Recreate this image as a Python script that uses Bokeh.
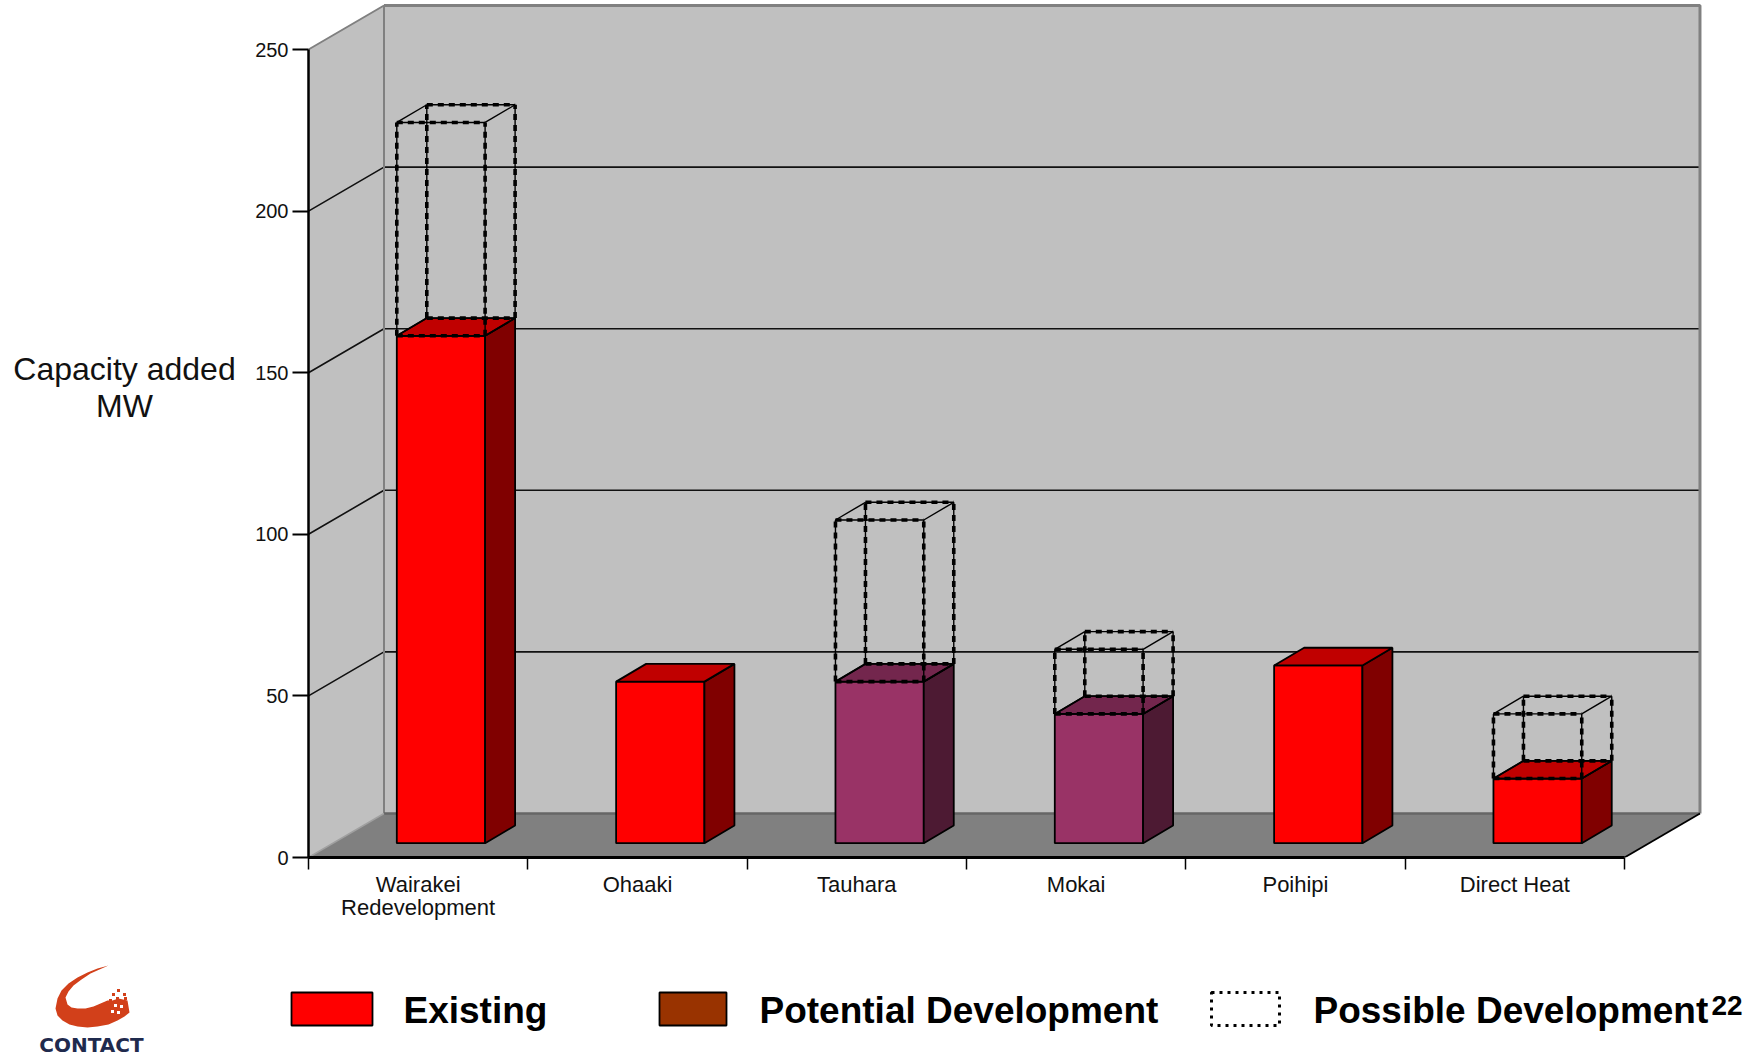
from bokeh.plotting import figure
from bokeh.layouts import column, row
from bokeh.models import Range1d, FixedTicker
from bokeh.core.properties import value
from bokeh.embed import file_html
from bokeh.resources import INLINE

# ---------- data ----------
categories = ["Wairakei\nRedevelopment", "Ohaaki", "Tauhara", "Mokai", "Poihipi", "Direct Heat"]
existing = [157, 50, 0, 0, 55, 20]
potential = [0, 0, 50, 40, 0, 0]
possible = [66, 0, 50, 20, 0, 20]
y_ticks = [0, 50, 100, 150, 200, 250]

# ---------- scales / geometry ----------
PX_CAT = 219.33
PX_MW = 3.232
W, H_TOP, H_LEG = 1749, 947, 108
TITLE_W = 240
FRAME_L, FRAME_B = 308, 90
FRAME_H = H_TOP - FRAME_B
ux = lambda px: px / PX_CAT
uy = lambda px: px / PX_MW
n = len(categories)
x_end = ux(W - FRAME_L)
y_end = uy(FRAME_H)
wall_dx, wall_dy = ux(75.5), uy(44)
right = n + wall_dx
wall_top = 250 + wall_dy
bar_off, bar_w = ux(88.3), ux(88.3)
bar_dx, bar_dy = ux(30), uy(17.7)
bar_base = uy(14.3)

RED, RED_TOP, RED_SIDE = "#FF0000", "#C00000", "#800000"
PUR, PUR_TOP, PUR_SIDE = "#993366", "#73264D", "#4D1A33"

p = figure(width=W - TITLE_W, height=H_TOP, output_backend="svg", toolbar_location=None,
           x_range=Range1d(0, x_end), y_range=Range1d(0, y_end),
           min_border_left=FRAME_L - TITLE_W, min_border_right=0, min_border_top=0, min_border_bottom=FRAME_B)
p.outline_line_color = None
p.grid.visible = False
p.frame_align = False

# axes
ya = p.yaxis[0]
ya.ticker = FixedTicker(ticks=y_ticks)
ya.bounds = (0, 250)
ya.axis_line_width = 2.5
ya.axis_line_color = "black"
ya.major_tick_line_width = 2
ya.major_tick_line_color = "black"
ya.major_tick_in = 0
ya.major_tick_out = 16
ya.minor_tick_line_color = None
ya.major_label_standoff = 4
ya.major_label_text_font = "Liberation Sans"
ya.major_label_text_font_size = "20px"
ya.major_label_text_color = "#111111"

xa = p.xaxis[0]
xa.ticker = FixedTicker(ticks=[i + 0.5 for i in range(n)], minor_ticks=list(range(n + 1)))
xa.major_label_overrides = {i + 0.5: c for i, c in enumerate(categories)}
xa.bounds = (0, n)
xa.axis_line_width = 3
xa.axis_line_color = "black"
xa.major_tick_line_color = None
xa.major_tick_in = 0
xa.major_tick_out = 0
xa.minor_tick_in = 0
xa.minor_tick_out = 12
xa.minor_tick_line_width = 1.5
xa.minor_tick_line_color = "black"
xa.major_label_standoff = 2
xa.major_label_text_font = "Liberation Sans"
xa.major_label_text_font_size = "22px"
xa.major_label_text_color = "#111111"
xa.major_label_text_line_height = 0.95

# walls and floor
p.patch([wall_dx, right, right, wall_dx], [wall_dy, wall_dy, wall_top, wall_top], fill_color="#C0C0C0", line_color=None)
p.patch([0, wall_dx, wall_dx, 0], [0, wall_dy, wall_top, 250], fill_color="#C0C0C0", line_color=None)
p.patch([0, n, right, wall_dx], [0, 0, wall_dy, wall_dy], fill_color="#808080", line_color=None)

# grid lines on both walls
for v in y_ticks[1:-1]:
    p.line([0, wall_dx, right], [v, v + wall_dy, v + wall_dy], line_color="#111111", line_width=1.6)

# wall edges
p.line([0, wall_dx, wall_dx], [250, wall_top, wall_dy], line_color="#808080", line_width=2)
p.line([wall_dx, right, right], [wall_top, wall_top, wall_dy], line_color="#808080", line_width=3)
p.line([wall_dx, right], [wall_dy, wall_dy], line_color="#666666", line_width=2.5)
p.line([0, wall_dx], [0, wall_dy], line_color="#A0A0A0", line_width=1.5)
p.line([n, right], [0, wall_dy], line_color="black", line_width=1.8)


def box(x0, y0, y1, front, top, side):
    x1 = x0 + bar_w
    style = dict(line_color="black", line_width=1.8)
    p.patch([x0, x1, x1, x0], [y0, y0, y1, y1], fill_color=front, **style)
    p.patch([x1, x1 + bar_dx, x1 + bar_dx, x1],
            [y0, y0 + bar_dy, y1 + bar_dy, y1], fill_color=side, **style)
    p.patch([x0, x1, x1 + bar_dx, x0 + bar_dx],
            [y1, y1, y1 + bar_dy, y1 + bar_dy], fill_color=top, **style)


def ghost(x0, y0, y1):
    x1 = x0 + bar_w
    a, b = x0 + bar_dx, x1 + bar_dx
    c, d = y0 + bar_dy, y1 + bar_dy
    thin = dict(line_color="black", line_width=1.4)
    thick = dict(line_color="black", line_width=3.6, line_dash="6 5")
    for xs, ys in ([x0, x0], [y0, y1]), ([x1, x1], [y0, y1]), ([a, a], [c, d]), ([b, b], [c, d]), \
                  ([x0, x1], [y1, y1]), ([a, b], [d, d]), ([x0, x1], [y0, y0]), ([a, b], [c, c]):
        p.line(xs, ys, **thin)
        p.line(xs, ys, **thick)
    for xs, ys in ([x0, a], [y1, d]), ([x1, b], [y1, d]), ([x0, a], [y0, c]), ([x1, b], [y0, c]):
        p.line(xs, ys, **thin)


for i in range(n):
    x0 = i + bar_off
    lo = bar_base
    if existing[i]:
        hi = lo + existing[i]
        box(x0, lo, hi, RED, RED_TOP, RED_SIDE)
        lo = hi
    if potential[i]:
        hi = lo + potential[i]
        box(x0, lo, hi, PUR, PUR_TOP, PUR_SIDE)
        lo = hi
    if possible[i]:
        ghost(x0, lo, lo + possible[i])

# ---------- y title panel, left of the chart ----------
t = figure(width=TITLE_W, height=H_TOP, output_backend="svg", toolbar_location=None,
           x_range=Range1d(0, TITLE_W), y_range=Range1d(0, y_end),
           x_axis_type=None, y_axis_type=None, min_border_left=0, min_border_right=0,
           min_border_top=0, min_border_bottom=FRAME_B)
t.outline_line_color = None
t.grid.visible = False
t.frame_align = False
t.text([124, 124], [uy(857 - 368), uy(857 - 405)], text=["Capacity added", "MW"],
       text_font=value("Liberation Sans"), text_font_size="32px", text_color="#111111",
       text_align="center", text_baseline="middle")

# ---------- legend strip, drawn in page pixels ----------
q = figure(width=W, height=H_LEG, output_backend="svg", toolbar_location=None,
           x_range=Range1d(0, W), y_range=Range1d(H_TOP + H_LEG, H_TOP),
           x_axis_type=None, y_axis_type=None, min_border=0)
q.outline_line_color = None
q.grid.visible = False
q.frame_align = False

q.quad(left=291, right=372, top=992, bottom=1025, fill_color="#FF0000", line_color="black", line_width=1.8)
q.quad(left=659, right=726, top=992, bottom=1025, fill_color="#993300", line_color="black", line_width=1.8)
q.quad(left=1211, right=1279, top=992, bottom=1025, fill_color=None, line_color="black",
       line_width=3, line_dash="3 5")

bold = dict(text_font=value("Liberation Sans"), text_font_style="bold", text_color="black",
            text_baseline="middle")
q.text([403], [1010], text=["Existing"], text_font_size="37px", **bold)
q.text([759], [1010], text=["Potential Development"], text_font_size="37px", **bold)
q.text([1313], [1010], text=["Possible Development"], text_font_size="37px", **bold)
q.text([1711], [1005], text=["22"], text_font_size="28px", **bold)

# logo
q.patch([108, 97, 87, 77, 68, 61, 57, 55, 57, 62, 69, 77, 87, 97, 108, 117, 124, 129, 127, 118, 112, 107, 100, 93, 85, 77, 71, 67, 65, 68, 73, 81, 90],
        [965, 968, 972, 977, 983, 990, 998, 1008, 1015, 1020, 1024, 1026, 1027, 1026, 1024, 1020, 1016, 1012, 1000, 998, 1000, 1000, 1003, 1006, 1008, 1008, 1007, 1004, 997, 991, 985, 979, 973],
        fill_color="#D2401A", line_color=None)
q.rect([113, 118, 124, 110, 117, 122, 125], [994, 990, 994, 1000, 998, 1002, 998], width=3, height=3,
       fill_color="#D2401A", line_color=None)
q.rect([112, 118, 121, 115], [1011, 1012, 1006, 1005], width=3, height=3, fill_color="white", line_color=None)
q.text([91], [1044], text=["CONTACT"], text_font=value("DejaVu Sans"), text_font_style="bold",
       text_font_size="20px", text_color="#1F2A4D", text_align="center", text_baseline="middle")

page = column(row(t, p, spacing=0), q, spacing=0)
open("out.html", "w").write(file_html(page, INLINE))
